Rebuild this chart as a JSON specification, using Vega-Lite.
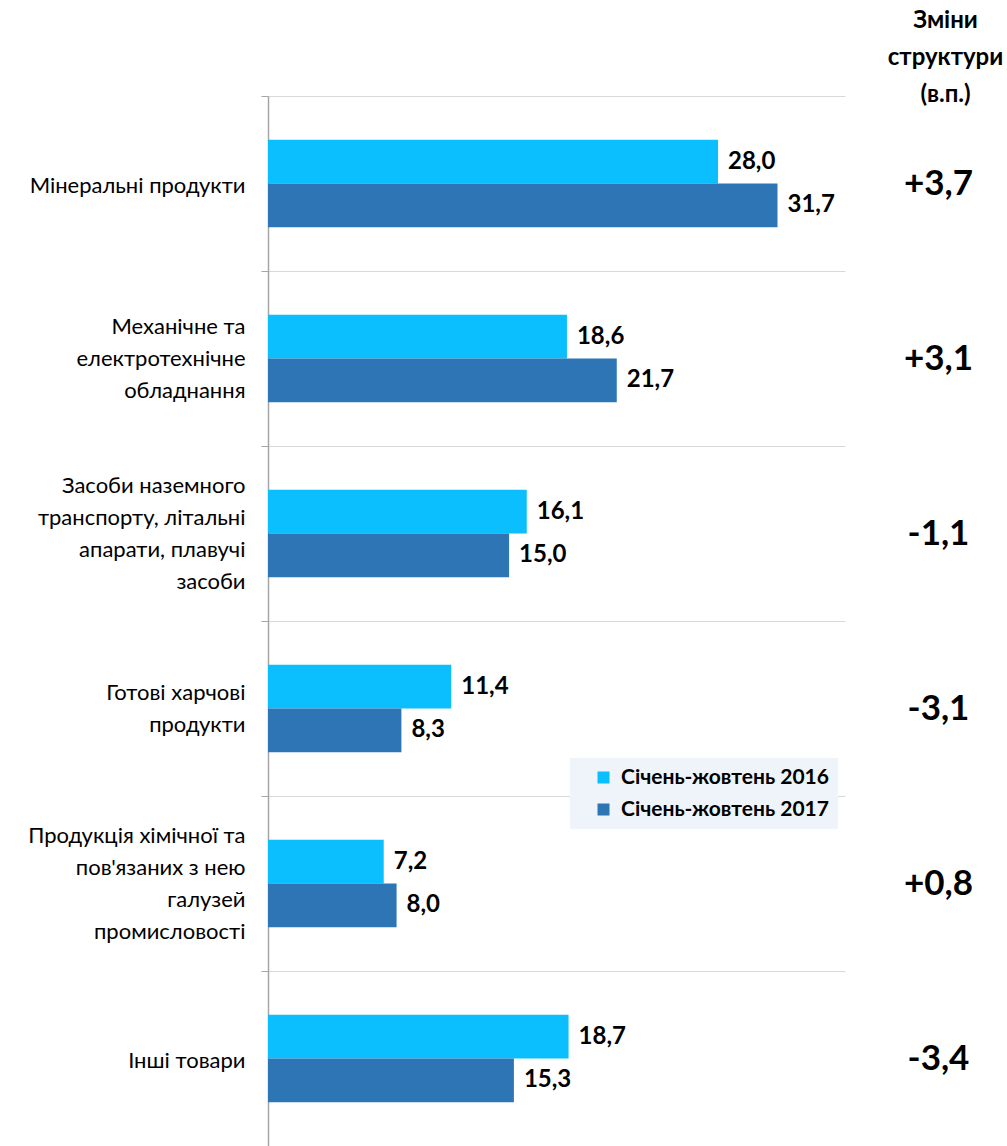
{
  "$schema": "https://vega.github.io/schema/vega-lite/v6.json",
  "autosize": {"type": "none"},
  "padding": {"left": 268, "top": 96, "right": 162, "bottom": 0},
  "width": 577,
  "height": 1050,
  "background": "white",
  "config": {
    "view": {"stroke": null},
    "font": "Lato",
    "locale": {"number": {"decimal": ",", "thousands": " ", "grouping": [3], "currency": ["", ""]}}
  },
  "datasets": {
    "bars": [
      {"cat": "Мінеральні продукти", "order": 1, "period": "Січень-жовтень 2016", "value": 28.0},
      {"cat": "Мінеральні продукти", "order": 1, "period": "Січень-жовтень 2017", "value": 31.7},
      {"cat": "Механічне та|електротехнічне|обладнання", "order": 2, "period": "Січень-жовтень 2016", "value": 18.6},
      {"cat": "Механічне та|електротехнічне|обладнання", "order": 2, "period": "Січень-жовтень 2017", "value": 21.7},
      {"cat": "Засоби наземного|транспорту, літальні|апарати, плавучі|засоби", "order": 3, "period": "Січень-жовтень 2016", "value": 16.1},
      {"cat": "Засоби наземного|транспорту, літальні|апарати, плавучі|засоби", "order": 3, "period": "Січень-жовтень 2017", "value": 15.0},
      {"cat": "Готові харчові|продукти", "order": 4, "period": "Січень-жовтень 2016", "value": 11.4},
      {"cat": "Готові харчові|продукти", "order": 4, "period": "Січень-жовтень 2017", "value": 8.3},
      {"cat": "Продукція хімічної та|пов'язаних з нею|галузей|промисловості", "order": 5, "period": "Січень-жовтень 2016", "value": 7.2},
      {"cat": "Продукція хімічної та|пов'язаних з нею|галузей|промисловості", "order": 5, "period": "Січень-жовтень 2017", "value": 8.0},
      {"cat": "Інші товари", "order": 6, "period": "Січень-жовтень 2016", "value": 18.7},
      {"cat": "Інші товари", "order": 6, "period": "Січень-жовтень 2017", "value": 15.3}
    ],
    "cats": [
      {"cat": "Мінеральні продукти", "order": 1, "change": "+3,7"},
      {"cat": "Механічне та|електротехнічне|обладнання", "order": 2, "change": "+3,1"},
      {"cat": "Засоби наземного|транспорту, літальні|апарати, плавучі|засоби", "order": 3, "change": "-1,1"},
      {"cat": "Готові харчові|продукти", "order": 4, "change": "-3,1"},
      {"cat": "Продукція хімічної та|пов'язаних з нею|галузей|промисловості", "order": 5, "change": "+0,8"},
      {"cat": "Інші товари", "order": 6, "change": "-3,4"}
    ]
  },
  "layer": [
    {
      "data": {"name": "bars"},
      "encoding": {
        "y": {
          "field": "cat",
          "type": "nominal",
          "sort": {"field": "order", "op": "min"},
          "scale": {"paddingInner": 0, "paddingOuter": 0},
          "axis": {
            "orient": "left",
            "title": null,
            "labelExpr": "split(datum.label, '|')",
            "labelFont": "Lato",
            "labelFontSize": 22,
            "labelColor": "#000000",
            "labelLineHeight": 32,
            "labelLimit": 300,
            "labelPadding": 16,
            "labelAlign": "right",
            "labelBaseline": "middle",
            "labelOffset": {
              "condition": [
                {"test": "length(split(datum.value, '|')) == 2", "value": -16},
                {"test": "length(split(datum.value, '|')) == 3", "value": -32},
                {"test": "length(split(datum.value, '|')) == 4", "value": -48}
              ],
              "value": 2
            },
            "tickBand": "extent",
            "tickSize": 7,
            "tickColor": "#A6A6A6",
            "domainColor": "#A6A6A6",
            "domainWidth": 1.5,
            "grid": true,
            "gridColor": "#D9D9D9",
            "gridWidth": 1.2
          }
        },
        "yOffset": {
          "field": "period",
          "type": "nominal",
          "scale": {"paddingInner": 0, "paddingOuter": 1.05}
        },
        "x": {
          "field": "value",
          "type": "quantitative",
          "scale": {"domain": [0, 35.9], "nice": false, "zero": true},
          "axis": null
        }
      },
      "layer": [
        {
          "mark": {"type": "bar"},
          "encoding": {
            "color": {
              "field": "period",
              "type": "nominal",
              "scale": {"domain": ["Січень-жовтень 2016", "Січень-жовтень 2017"], "range": ["#0BBFFF", "#2E75B6"]},
              "legend": {
                "title": null,
                "orient": "none",
                "legendX": 302,
                "legendY": 662,
                "fillColor": "#EEF4FA",
                "padding": 9,
                "symbolOffset": 14,
                "symbolType": "square",
                "symbolSize": 144,
                "symbolStrokeWidth": 0,
                "labelFont": "Lato",
                "labelFontSize": 21,
                "labelFontWeight": "bold",
                "labelColor": "#000000",
                "labelOffset": 7,
                "rowPadding": 10,
                "labelLimit": 400
              }
            }
          }
        },
        {
          "mark": {"type": "text", "align": "left", "baseline": "middle", "dx": 10, "font": "Lato", "fontSize": 24, "fontWeight": "bold", "color": "#000000"},
          "encoding": {
            "text": {"field": "value", "type": "quantitative", "format": ".1f"}
          }
        }
      ]
    },
    {
      "data": {"name": "cats"},
      "mark": {"type": "text", "opacity": 0},
      "encoding": {
        "y": {
          "field": "change",
          "type": "nominal",
          "sort": {"field": "order", "op": "min"},
          "scale": {"paddingInner": 0, "paddingOuter": 0},
          "axis": {
            "orient": "right",
            "title": ["Зміни", "структури", "(в.п.)"],
            "titleAngle": 0,
            "titleAlign": "center",
            "titleBaseline": "middle",
            "titleX": 100,
            "titleY": -76,
            "titleFont": "Lato",
            "titleFontSize": 24,
            "titleFontWeight": "bold",
            "titleColor": "#000000",
            "titleLineHeight": 37,
            "domain": false,
            "ticks": false,
            "tickSize": 0,
            "grid": false,
            "labelFont": "Lato",
            "labelFontSize": 35,
            "labelFontWeight": "bold",
            "labelColor": "#000000",
            "labelAlign": "center",
            "labelBaseline": "middle",
            "labelPadding": 93
          }
        },
        "text": {"field": "change"}
      }
    }
  ],
  "resolve": {"scale": {"y": "independent", "yOffset": "independent"}, "axis": {"y": "independent"}}
}
